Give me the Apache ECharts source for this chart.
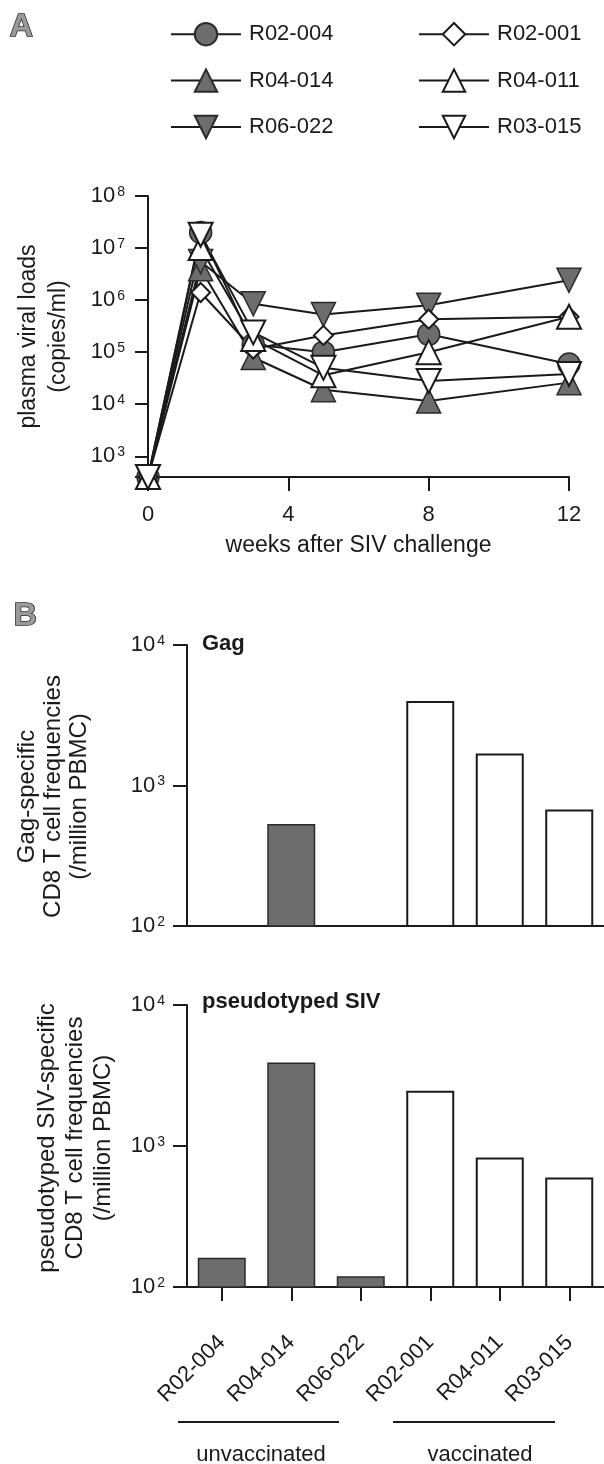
<!DOCTYPE html>
<html>
<head>
<meta charset="utf-8">
<script src="https://cdn.jsdelivr.net/npm/echarts@6/dist/echarts.min.js"></script>
<style>
  html, body { margin: 0; padding: 0; background: #fff; }
  #chart { width: 604px; height: 1464px; }
</style>
</head>
<body>
<div id="chart"></div>
<script>
// panel A: plasma viral loads (copies/ml) after SIV challenge
var weeks = [0, 1.5, 3, 5, 8, 12];
var vlR02_004 = [400, 2.0e7, 1.4e5, 1.0e5, 2.2e5, 5.9e4];
var vlR04_014 = [400, 4.0e6, 7.9e4, 1.9e4, 1.15e4, 2.6e4];
var vlR06_022 = [400, 5.5e6, 8.5e5, 5.3e5, 8.0e5, 2.4e6];
var vlR02_001 = [400, 1.4e6, 1.15e5, 2.1e5, 4.3e5, 4.8e5];
var vlR04_011 = [400, 1.0e7, 1.8e5, 3.6e4, 1.0e5, 4.8e5];
var vlR03_015 = [400, 1.8e7, 2.4e5, 5.0e4, 2.8e4, 3.8e4];

// panel B: CD8 T cell frequencies (/million PBMC)
var animals = ['R02-004', 'R04-014', 'R06-022', 'R02-001', 'R04-011', 'R03-015'];
var groups = ['unvaccinated', 'unvaccinated', 'unvaccinated', 'vaccinated', 'vaccinated', 'vaccinated'];
var gagFreq = [null, 532, null, 3990, 1690, 676];
var psivFreq = [161, 3917, 119, 2466, 830, 599];

var xTicks = [0, 4, 8, 12];

var FONT = 'Liberation Sans, Arial, sans-serif';
var INK = '#1a1a1a';
var GRAY = '#6d6d6d';

var chart = echarts.init(document.getElementById('chart'), null, { renderer: 'canvas' });

function powLabel(v) {
  var e = Math.log10(v);
  if (Math.abs(e - Math.round(e)) > 1e-6) return '';
  return '{b|10}{s|' + Math.round(e) + '}';
}
var powRich = {
  b: { fontSize: 22, fontFamily: FONT, color: INK },
  s: { fontSize: 14, fontFamily: FONT, color: INK, verticalAlign: 'top', padding: [0, 0, 0, 2] }
};

var filled = { color: GRAY, borderColor: '#2b2b2b', borderWidth: 1.5 };
var open = { color: '#fff', borderColor: INK, borderWidth: 2 };
var markers = {
  'R02-004': { symbol: 'circle', size: 22, rot: 0, style: filled, vals: vlR02_004 },
  'R04-014': { symbol: 'triangle', size: 24, rot: 0, style: filled, vals: vlR04_014 },
  'R06-022': { symbol: 'triangle', size: 24, rot: 180, style: filled, vals: vlR06_022 },
  'R02-001': { symbol: 'diamond', size: 19, rot: 0, style: open, vals: vlR02_001 },
  'R04-011': { symbol: 'triangle', size: 24, rot: 0, style: open, vals: vlR04_011 },
  'R03-015': { symbol: 'triangle', size: 24, rot: 180, style: open, vals: vlR03_015 }
};

var lineSeries = animals.map(function (name) {
  var m = markers[name];
  return {
    name: name,
    type: 'line',
    xAxisIndex: 0,
    yAxisIndex: 0,
    clip: false,
    symbol: m.symbol,
    symbolSize: m.size,
    symbolRotate: m.rot,
    showAllSymbol: true,
    lineStyle: { color: INK, width: 2 },
    itemStyle: m.style,
    data: weeks.map(function (w, i) { return [w, m.vals[i]]; })
  };
});

function barData(vals) {
  return vals.map(function (v, i) {
    return {
      value: v == null ? '-' : v,
      itemStyle: groups[i] === 'unvaccinated'
        ? { color: GRAY, borderColor: '#2b2b2b', borderWidth: 1.5 }
        : { color: '#fff', borderColor: INK, borderWidth: 2 }
    };
  });
}

var legendBase = {
  orient: 'vertical',
  top: 17,
  itemWidth: 70,
  itemHeight: 28,
  itemGap: 22,
  textStyle: { fontSize: 22, fontFamily: FONT, color: INK, padding: [0, 0, 0, 3] }
};

var logAxisBase = {
  type: 'log',
  logBase: 10,
  axisLine: { show: true, onZero: false, lineStyle: { color: INK, width: 2 } },
  axisTick: { show: true, length: 14, lineStyle: { color: INK, width: 2 } },
  axisLabel: { formatter: powLabel, rich: powRich, margin: 22 },
  splitLine: { show: false },
  nameLocation: 'middle',
  nameRotate: 90
};

var option = {
  backgroundColor: '#fff',
  animation: false,
  textStyle: { fontFamily: FONT, color: INK },
  title: [
    { text: 'Gag', left: 202, top: 633, padding: 0,
      textStyle: { fontSize: 22, fontWeight: 'bold', fontFamily: FONT, color: INK } },
    { text: 'pseudotyped SIV', left: 202, top: 991, padding: 0,
      textStyle: { fontSize: 22, fontWeight: 'bold', fontFamily: FONT, color: INK } }
  ],
  legend: [
    Object.assign({}, legendBase, { left: 165, data: animals.slice(0, 3) }),
    Object.assign({}, legendBase, { left: 413, data: animals.slice(3) })
  ],
  grid: [
    { left: 148, top: 196, width: 421, height: 281 },
    { left: 187, top: 645, width: 421, height: 281 },
    { left: 187, top: 1005, width: 421, height: 282 }
  ],
  xAxis: [
    {
      gridIndex: 0,
      type: 'value',
      min: xTicks[0],
      max: xTicks[xTicks.length - 1],
      interval: xTicks[1] - xTicks[0],
      name: 'weeks after SIV challenge',
      nameLocation: 'middle',
      nameGap: 57,
      nameTextStyle: { fontSize: 23, fontFamily: FONT, color: INK },
      axisLine: { onZero: false, lineStyle: { color: INK, width: 2 } },
      axisTick: { length: 14, lineStyle: { color: INK, width: 2 } },
      axisLabel: { fontSize: 22, margin: 27, color: INK, fontFamily: FONT },
      splitLine: { show: false }
    },
    {
      gridIndex: 1,
      type: 'category',
      data: animals,
      axisLine: { onZero: false, lineStyle: { color: INK, width: 2 } },
      axisTick: { show: false },
      axisLabel: { show: false }
    },
    {
      gridIndex: 2,
      type: 'category',
      data: animals,
      axisLine: { onZero: false, lineStyle: { color: INK, width: 2 } },
      axisTick: { show: true, alignWithLabel: true, length: 14, lineStyle: { color: INK, width: 2 } },
      axisLabel: { interval: 0, rotate: 45, margin: 52, fontSize: 22, color: INK, fontFamily: FONT }
    }
  ],
  yAxis: [
    Object.assign({}, logAxisBase, {
      gridIndex: 0,
      min: 400,
      max: 1e8,
      name: 'plasma viral loads\n(copies/ml)',
      nameGap: 74,
      nameTextStyle: { fontSize: 23, lineHeight: 30, fontFamily: FONT, color: INK },
      axisTick: { show: true, length: 13, lineStyle: { color: INK, width: 2 } },
      axisLabel: { formatter: powLabel, rich: powRich, margin: 23 }
    }),
    Object.assign({}, logAxisBase, {
      gridIndex: 1,
      min: 100,
      max: 10000,
      name: 'Gag-specific\nCD8 T cell frequencies\n(/million PBMC)',
      nameGap: 95,
      nameTextStyle: { fontSize: 24, lineHeight: 26, fontFamily: FONT, color: INK, padding: [0, 22, 0, 0] }
    }),
    Object.assign({}, logAxisBase, {
      gridIndex: 2,
      min: 100,
      max: 10000,
      name: 'pseudotyped SIV-specific\nCD8 T cell frequencies\n(/million PBMC)',
      nameGap: 70,
      nameTextStyle: { fontSize: 24, lineHeight: 28, fontFamily: FONT, color: INK, padding: [0, 0, 0, 16] }
    })
  ],
  graphic: [
    { type: 'text', left: 9, top: 10,
      style: { text: 'A', font: 'bold 32px ' + FONT, fill: '#9a9a9a', stroke: '#2b2b2b', lineWidth: 1.5 } },
    { type: 'text', left: 13, top: 599,
      style: { text: 'B', font: 'bold 32px ' + FONT, fill: '#9a9a9a', stroke: '#2b2b2b', lineWidth: 1.5 } },
    { type: 'line', shape: { x1: 178, y1: 1422, x2: 339, y2: 1422 },
      style: { stroke: INK, lineWidth: 2 } },
    { type: 'line', shape: { x1: 393, y1: 1422, x2: 555, y2: 1422 },
      style: { stroke: INK, lineWidth: 2 } },
    { type: 'text', x: 261, y: 1455,
      style: { text: 'unvaccinated', font: '22px ' + FONT, fill: INK, textAlign: 'center', textVerticalAlign: 'middle' } },
    { type: 'text', x: 480, y: 1455,
      style: { text: 'vaccinated', font: '22px ' + FONT, fill: INK, textAlign: 'center', textVerticalAlign: 'middle' } }
  ],
  series: lineSeries.concat([
    {
      name: 'Gag',
      type: 'bar',
      xAxisIndex: 1,
      yAxisIndex: 1,
      barWidth: 48,
      data: barData(gagFreq)
    },
    {
      name: 'pseudotyped SIV',
      type: 'bar',
      xAxisIndex: 2,
      yAxisIndex: 2,
      barWidth: 48,
      data: barData(psivFreq)
    }
  ])
};

chart.setOption(option);
</script>
</body>
</html>
